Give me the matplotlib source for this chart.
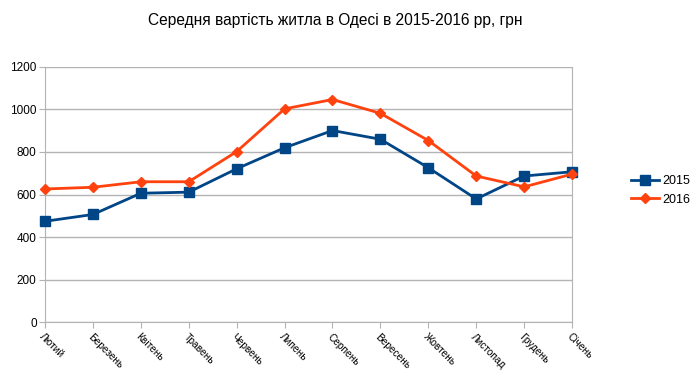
import matplotlib.pyplot as plt
import numpy as np

plt.rcParams['font.family'] = ['Liberation Sans', 'DejaVu Sans']

months = ["Лютий", "Березень", "Квітень", "Травень", "Червень", "Липень",
          "Серпень", "Вересень", "Жовтень", "Листопад", "Грудень", "Січень"]
vals_2015 = [474, 506, 606, 611, 721, 820, 901, 860, 726, 579, 687, 707]
vals_2016 = [626, 634, 660, 660, 802, 1003, 1047, 982, 854, 687, 636, 696]

fig = plt.figure(figsize=(6.99, 3.85), dpi=100)
ax = fig.add_axes([0.0644, 0.1636, 0.754, 0.6624])

x = np.arange(len(months))
l1, = ax.plot(x, vals_2015, color='#004586', lw=2, marker='s', markersize=7,
              label='2015', clip_on=False, zorder=3)
l2, = ax.plot(x, vals_2016, color='#ff420e', lw=2, marker='D', markersize=5,
              label='2016', clip_on=False, zorder=4)

ax.set_xlim(0, len(months) - 1)
ax.set_ylim(0, 1200)
ax.set_yticks(range(0, 1201, 200))
ax.set_xticks(x)
ax.set_xticklabels(months, rotation=-45, ha='left', va='top', rotation_mode='anchor', fontsize=7.3)
ax.tick_params(axis='y', labelsize=8.5, length=4, color='#b3b3b3', pad=2)
ax.tick_params(axis='x', length=4, color='#b3b3b3', pad=3)
ax.yaxis.grid(True, color='#b3b3b3', lw=1)
ax.set_axisbelow(True)
for s in ['left', 'right', 'bottom']:
    ax.spines[s].set_color('#b3b3b3')
ax.spines['top'].set_visible(False)

fig.suptitle("Середня вартість житла в Одесі в 2015-2016 рр, грн", x=0.48, y=0.965, fontsize=11.2)
fig.legend(handles=[l1, l2], loc='center left', bbox_to_anchor=(0.887, 0.505), frameon=False,
           fontsize=9, handlelength=2.2, handletextpad=0.3, labelspacing=0.5)

fig.savefig('out.png', dpi=100)
